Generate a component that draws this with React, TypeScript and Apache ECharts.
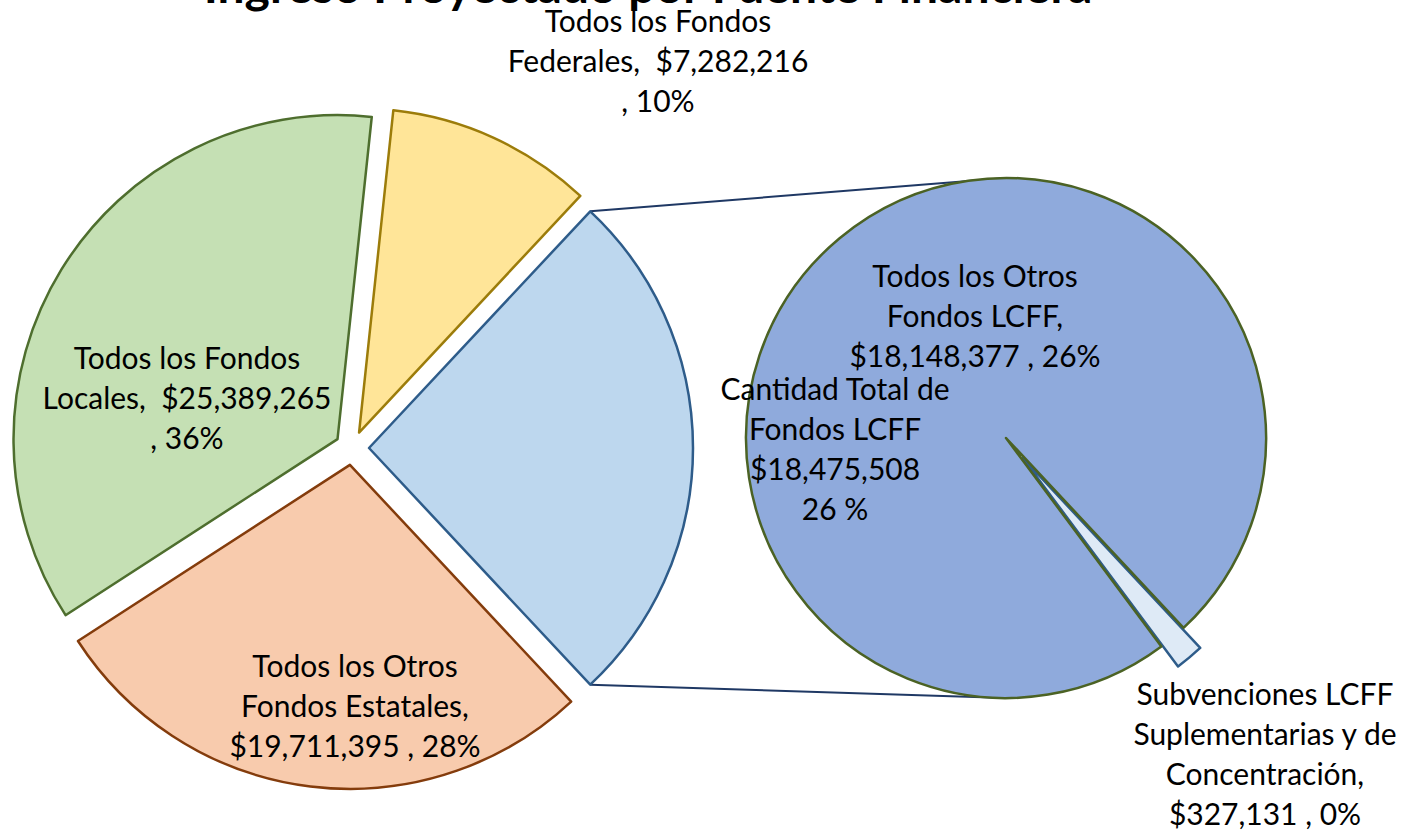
import React, { useEffect, useRef } from "react";
import * as echarts from "echarts";

// ---- data ----
const mainCategories = [
  "Todos los Fondos Federales",
  "Cantidad Total de Fondos LCFF",
  "Todos los Otros Fondos Estatales",
  "Todos los Fondos Locales",
];
const lcffParts = ["Todos los Otros Fondos LCFF", "Subvenciones LCFF Suplementarias y de Concentración"];
const lcffPartValues = [18148377, 327131];
const mainValues = [7282216, lcffPartValues[0] + lcffPartValues[1], 19711395, 25389265];
const title = "Ingreso Proyectado por Fuente Financiera";

const mainFill = ["#FFE598", "#BDD7EE", "#F8CBAD", "#C5E0B4"];
const mainBorder = ["#9C7C0A", "#2E5C8A", "#843C0C", "#4E6E2E"];
const subFill = ["#8FAADC", "#DEEAF6"];
const subBorder = ["#4B6224", "#2E5C8A"];

const FONT = "Lato";

export default function App() {
  const ref = useRef<HTMLDivElement>(null);
  useEffect(() => {
    const chart = echarts.init(ref.current!, null, { renderer: "svg" });
    const total = mainValues.reduce((a, b) => a + b, 0);
    const fmt = (v: number) => "$" + v.toLocaleString("en-US");
    const pct = (v: number) => Math.round((v / total) * 100);

    const mainLabels = [
      `Todos los Fondos\nFederales,  ${fmt(mainValues[0])}\n, ${pct(mainValues[0])}%`,
      `Cantidad Total de\nFondos LCFF\n${fmt(mainValues[1])}\n${pct(mainValues[1])} %`,
      `Todos los Otros\nFondos Estatales,\n${fmt(mainValues[2])} , ${pct(mainValues[2])}%`,
      `Todos los Fondos\nLocales,  ${fmt(mainValues[3])}\n, ${pct(mainValues[3])}%`,
    ];
    const subLabels = [
      `Todos los Otros\nFondos LCFF,\n${fmt(lcffPartValues[0])} , ${pct(lcffPartValues[0])}%`,
      `Subvenciones LCFF\nSuplementarias y de\nConcentración,\n${fmt(lcffPartValues[1])} , ${pct(lcffPartValues[1])}%`,
    ];
    const mainLabelPos = [
      [658, 60],
      [835, 448],
      [355, 705],
      [187, 397],
    ];
    const subLabelPos = [
      [975, 315],
      [1265, 753],
    ];

    // geometry
    const leftC = [352, 448];
    const leftR = 324;
    const leftOff = 17;
    const rightC = [1006, 438];
    const rightR = 260;
    const rightOff = 26;

    const lcffHalf = (mainValues[1] / total) * 180; // degrees
    const startMain = lcffHalf + (mainValues[0] / total) * 360;
    const startSub = -lcffHalf;

    const rad = (lcffHalf * Math.PI) / 180;
    const tipX = leftC[0] + leftOff;
    const tipY = leftC[1];
    const topCorner = [tipX + leftR * Math.cos(rad), tipY - leftR * Math.sin(rad)];
    const botCorner = [tipX + leftR * Math.cos(rad), tipY + leftR * Math.sin(rad)];

    const labelText = (text: string, pos: number[]) => ({
      type: "text",
      x: pos[0],
      y: pos[1],
      z: 20,
      style: {
        text,
        fontFamily: FONT,
        fontSize: 30,
        lineHeight: 40,
        fill: "#000",
        align: "center",
        verticalAlign: "middle",
      },
    });

    const bw = 2.5;

    chart.setOption({
      animation: false,
      backgroundColor: "#fff",
      graphic: [
        {
          type: "text",
          x: 648,
          y: 8,
          z: 10,
          style: {
            text: title,
            fontFamily: FONT,
            fontWeight: "bold",
            fontSize: 48,
            fill: "#000",
            align: "center",
            verticalAlign: "bottom",
          },
        },
        {
          type: "line",
          z: 1,
          shape: { x1: topCorner[0], y1: topCorner[1], x2: rightC[0], y2: rightC[1] - rightR },
          style: { stroke: "#1F3864", lineWidth: 2 },
        },
        {
          type: "line",
          z: 1,
          shape: { x1: botCorner[0], y1: botCorner[1], x2: rightC[0], y2: rightC[1] + rightR },
          style: { stroke: "#1F3864", lineWidth: 2 },
        },
        ...mainLabels.map((t, i) => labelText(t, mainLabelPos[i])),
        ...subLabels.map((t, i) => labelText(t, subLabelPos[i])),
      ],
      series: [
        {
          type: "pie",
          z: 3,
          center: leftC,
          radius: leftR,
          startAngle: startMain,
          clockwise: true,
          selectedMode: "multiple",
          selectedOffset: leftOff,
          avoidLabelOverlap: false,
          emphasis: { disabled: true },
          label: { show: false },
          labelLine: { show: false },
          data: mainCategories.map((n, i) => ({
            name: n,
            value: mainValues[i],
            selected: true,
            itemStyle: { color: mainFill[i], borderColor: mainBorder[i], borderWidth: bw },
            select: { itemStyle: { color: mainFill[i], borderColor: mainBorder[i], borderWidth: bw } },
          })),
        },
        {
          type: "pie",
          z: 2,
          center: rightC,
          radius: rightR,
          startAngle: startSub,
          clockwise: true,
          selectedMode: "multiple",
          selectedOffset: rightOff,
          avoidLabelOverlap: false,
          emphasis: { disabled: true },
          label: { show: false },
          labelLine: { show: false },
          data: [1, 0].map((i) => ({
            name: lcffParts[i],
            value: lcffPartValues[i],
            selected: i === 1,
            itemStyle: { color: subFill[i], borderColor: subBorder[i], borderWidth: bw },
            select: { itemStyle: { color: subFill[i], borderColor: subBorder[i], borderWidth: bw } },
          })),
        },
      ],
    });
    return () => chart.dispose();
  }, []);
  return (
    <div
      ref={ref}
      style={{ position: "absolute", left: 0, top: 0, width: 1420, height: 834, background: "#fff" }}
    />
  );
}
